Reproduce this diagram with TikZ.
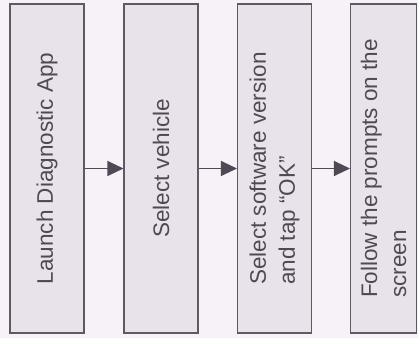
\documentclass[tikz,border=0pt]{standalone}
\usepackage{fontspec}
\setmainfont{Liberation Sans}
\usepackage{xcolor}
\usetikzlibrary{arrows.meta}

\definecolor{pagebg}{HTML}{F7F2F7}
\definecolor{boxfill}{HTML}{E8E3EB}
\definecolor{boxline}{HTML}{5E5963}
\definecolor{inkgray}{HTML}{4E4954}

\begin{document}
\begin{tikzpicture}[x=1pt,y=1pt,
  stepbox/.style={draw=boxline,fill=boxfill,line width=1.1pt,rotate=90,
    minimum width=329pt,minimum height=74pt,inner sep=0pt,align=left,
    text=inkgray,font=\fontsize{22.5}{29}\selectfont},
  flow/.style={draw=inkgray,line width=1.2pt,-{Triangle[length=16pt,width=15pt]}}]
  \fill[pagebg] (0,0) rectangle (418,338);
  \useasboundingbox (0,0) rectangle (418,338);
  \node[stepbox] (launch) at (47,169.5) {Launch Diagnostic App};
  \node[stepbox] (vehicle) at (161,169.5) {Select vehicle};
  \node[stepbox] (version) at (274.5,169.5) {Select software version\\and tap “OK”};
  \node[stepbox,minimum height=66pt] (prompts) at (383.5,169.5) {Follow the prompts on the\\screen};
  \draw[flow] (launch.south) -- (vehicle.north);
  \draw[flow] (vehicle.south) -- (version.north);
  \draw[flow] (version.south) -- (prompts.north);
\end{tikzpicture}
\end{document}
